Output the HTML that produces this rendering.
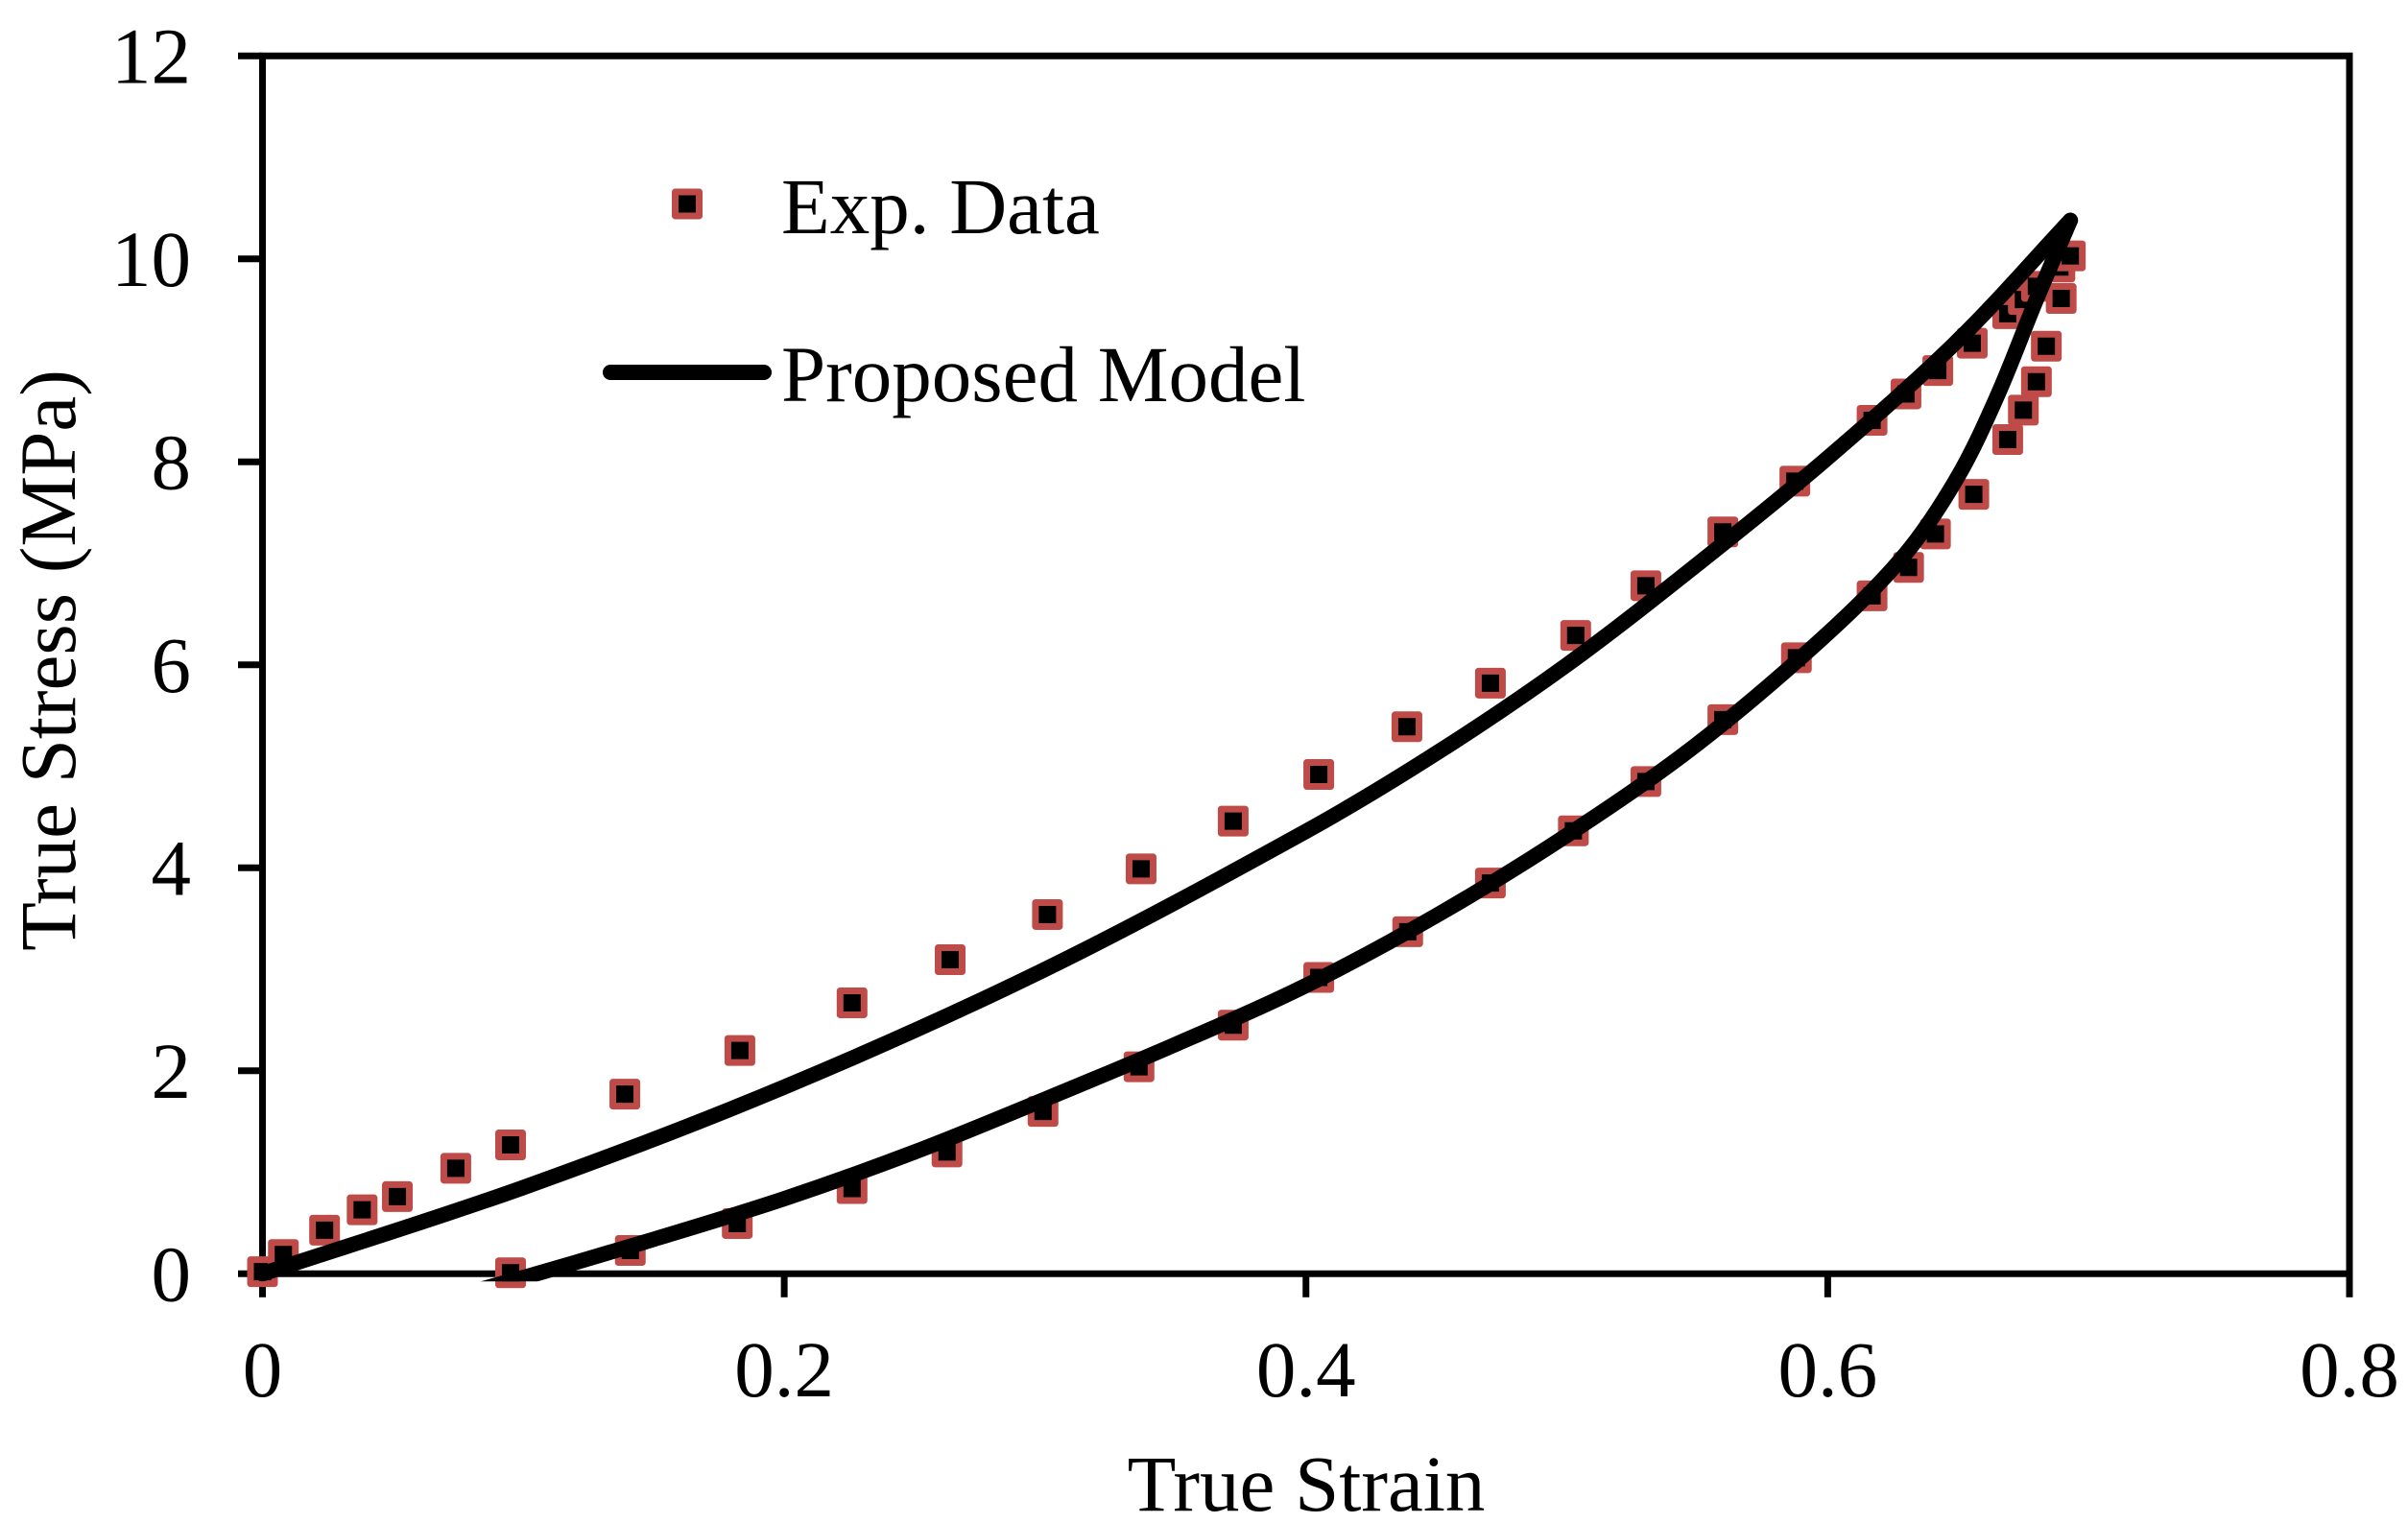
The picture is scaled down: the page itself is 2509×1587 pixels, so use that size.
<!DOCTYPE html>
<html lang="en">
<head>
<meta charset="utf-8">
<title>True Stress vs True Strain</title>
<style>
html,body{margin:0;padding:0;background:#fff;}
svg{display:block;}
text{font-family:"Liberation Serif",serif;font-size:83px;fill:#000;}
</style>
</head>
<body>
<svg id="chart" xmlns="http://www.w3.org/2000/svg" width="2509" height="1587" viewBox="0 0 2509 1587">
  <defs><clipPath id="plot-clip"><rect x="200" y="40" width="2260" height="1295.3"/></clipPath></defs>
  <g id="axes"></g>
  <g id="markers"></g>
  <g id="lines" clip-path="url(#plot-clip)"></g>
  <g id="legend">
    <rect x="703.5" y="200" width="25" height="25" fill="#000" stroke="#BE4B48" stroke-width="7" stroke-linejoin="round"/>
    <text x="814" y="243">Exp. Data</text>
    <line x1="636" y1="388" x2="796" y2="388" stroke="#000" stroke-width="16" stroke-linecap="round"/>
    <text x="814" y="418">Proposed Model</text>
  </g>
  <text x="1361" y="1574" text-anchor="middle">True Strain</text>
  <text transform="translate(78 688) rotate(-90)" text-anchor="middle">True Stress (MPa)</text>
</svg>
<script>
const xTicks = [0, 0.2, 0.4, 0.6, 0.8];
const xTickLabels = ['0', '0.2', '0.4', '0.6', '0.8'];
const yTicks = [0, 2, 4, 6, 8, 10, 12];
const yTickLabels = ['0', '2', '4', '6', '8', '10', '12'];

const expStrain = [0, .0080, .0238, .0382, .0517, .0741, .0951, .1389, .183, .226, .2636, .3009, .3368, .3721, .4049, .4387, .4707, .5034, .5303, .5598, .5874, .617, .63, .6422, .6554, .669, .675, .680, .689, .693, .6895, .6838, .680, .675, .669, .656, .6413, .631, .617, .588, .5598, .5303, .5025, .4707, .4390, .4049, .3721, .336, .2992, .2624, .226, .182, .141, .0951];
const expStress = [.02, .19, .43, .63, .76, 1.04, 1.27, 1.77, 2.2, 2.67, 3.095, 3.54, 3.99, 4.46, 4.92, 5.39, 5.82, 6.29, 6.78, 7.31, 7.81, 8.41, 8.67, 8.90, 9.17, 9.46, 9.60, 9.73, 9.92, 10.03, 9.61, 9.14, 8.79, 8.51, 8.22, 7.68, 7.29, 6.96, 6.68, 6.07, 5.46, 4.85, 4.365, 3.85, 3.37, 2.92, 2.45, 2.04, 1.6, 1.2, .84, .495, .23, .01];

const loadStrain = [0, .1, .2, .3, .4, .45, .5, .55, .6, .65, .693];
const loadStress = [0, .85, 1.84, 3.0, 4.36, 5.13, 6.0, 6.99, 8.04, 9.2, 10.38];
const unloadStrain = [.693, .68, .665, .65, .63, .6, .55, .5, .45, .4, .35, .3, .25, .2, .15, .105, .08];
const unloadStress = [10.38, 9.6, 8.65, 7.86, 7.1, 6.31, 5.22, 4.32, 3.53, 2.84, 2.26, 1.72, 1.2, .74, .34, 0, -.18];

const NS = 'http://www.w3.org/2000/svg';
const X0 = 273.5, X1 = 2448, Y0 = 1327.3, Y1 = 58.3;
const xScale = v => X0 + (v - 0) / 0.8 * (X1 - X0);
const yScale = v => Y0 - (v - 0) / 12 * (Y0 - Y1);

function make(tag, attrs, parent) {
  const el = document.createElementNS(NS, tag);
  for (const k in attrs) el.setAttribute(k, attrs[k]);
  parent.appendChild(el);
  return el;
}

const axes = document.getElementById('axes');
const frame = make('path', {d: `M${X0} ${Y1}H${X1}V${Y0}H${X0}Z`, fill: 'none', stroke: '#000', 'stroke-width': 7}, axes);



xTicks.forEach((v, i) => {
  const px = xScale(v);
  const tick = make('line', {x1: px, x2: px, y1: Y0, y2: Y0 + 24.5, stroke: '#000', 'stroke-width': 7}, axes);
  
  
  const label = make('text', {x: px, y: 1455, 'text-anchor': 'middle'}, axes);
  label.textContent = xTickLabels[i];
  
  
});

yTicks.forEach((v, i) => {
  const py = yScale(v);
  const tick = make('line', {x1: X0, x2: 248, y1: py, y2: py, stroke: '#000', 'stroke-width': 7}, axes);
  
  
  const label = make('text', {x: 199, y: py + 28, 'text-anchor': 'end'}, axes);
  label.textContent = yTickLabels[i];
  
  
});

const markers = document.getElementById('markers');
expStrain.forEach((v, i) => {
  const m = make('rect', {x: xScale(v) - 12.5, y: yScale(expStress[i]) - 12.5, width: 25, height: 25, fill: '#000', stroke: '#BE4B48', 'stroke-width': 7, 'stroke-linejoin': 'round'}, markers);
  
  
});

function smoothPath(xs, ys) {
  const p = xs.map((v, i) => [xScale(v), yScale(ys[i])]);
  const tangent = i => {
    const a = p[Math.max(i - 1, 0)], c = p[Math.min(i + 1, p.length - 1)];
    const dx = c[0] - a[0], dy = c[1] - a[1], n = Math.hypot(dx, dy) || 1;
    return [dx / n, dy / n];
  };
  let d = `M${p[0][0]} ${p[0][1]}`;
  for (let i = 0; i < p.length - 1; i++) {
    const b = p[i], c = p[i + 1], t0 = tangent(i), t1 = tangent(i + 1);
    const len = Math.hypot(c[0] - b[0], c[1] - b[1]) / 3;
    d += `C${b[0] + t0[0] * len} ${b[1] + t0[1] * len} ${c[0] - t1[0] * len} ${c[1] - t1[1] * len} ${c[0]} ${c[1]}`;
  }
  return d;
}

const lines = document.getElementById('lines');
const loadLine = make('path', {d: smoothPath(loadStrain, loadStress), fill: 'none', stroke: '#000', 'stroke-width': 16, 'stroke-linecap': 'round', 'stroke-linejoin': 'round'}, lines);


const unloadLine = make('path', {d: smoothPath(unloadStrain, unloadStress), fill: 'none', stroke: '#000', 'stroke-width': 16, 'stroke-linecap': 'round', 'stroke-linejoin': 'round'}, lines);


</script>
</body>
</html>
